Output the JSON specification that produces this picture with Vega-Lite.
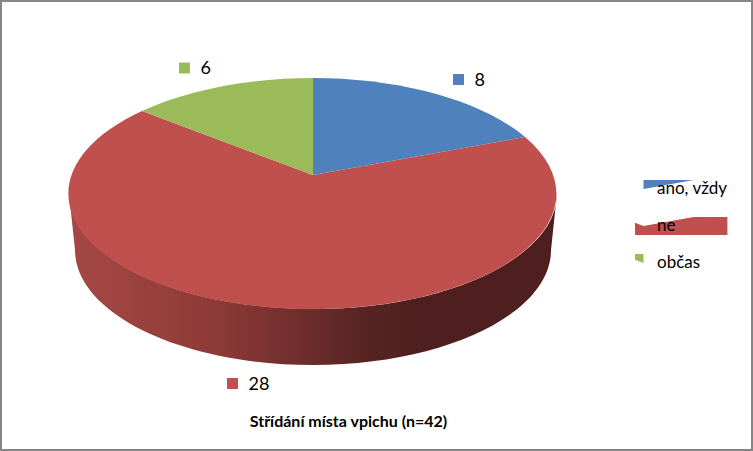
{
  "$schema": "https://vega.github.io/schema/vega-lite/v6.json",
  "width": 753,
  "height": 451,
  "padding": 0,
  "autosize": {"type": "none"},
  "background": "#ffffff",
  "config": {
    "view": {"stroke": "#868686", "strokeWidth": 4},
    "font": "Lato"
  },
  "title": {
    "text": "Střídání místa vpichu (n=42)",
    "orient": "bottom",
    "anchor": "middle",
    "dx": -28,
    "offset": -37,
    "font": "Lato",
    "fontSize": 16,
    "fontWeight": "bold",
    "color": "#000000"
  },
  "data": {
    "values": [
      {"kategorie": "ano, vždy", "n": 8},
      {"kategorie": "ne", "n": 28},
      {"kategorie": "občas", "n": 6}
    ]
  },
  "resolve": {"scale": {"x": "independent", "y": "independent"}},
  "layer": [
    {
      "transform": [{"filter": "datum.kategorie === 'ne'"}],
      "mark": {
        "type": "point",
        "filled": true,
        "opacity": 1,
        "size": 4,
        "shape": "M-244,18.5 A244,115.5 0 0 0 244,18.5 L238,75 A238,115 0 0 1 -238,75 Z",
        "fill": {
          "gradient": "linear",
          "x1": 0, "y1": 0, "x2": 1, "y2": 0,
          "stops": [
            {"offset": 0, "color": "#a64845"},
            {"offset": 0.3, "color": "#8e3a38"},
            {"offset": 0.6, "color": "#582423"},
            {"offset": 0.72, "color": "#4e1f1e"},
            {"offset": 1, "color": "#4e1f1e"}
          ]
        }
      },
      "encoding": {
        "x": {"field": "n", "type": "quantitative", "axis": null, "scale": {"domain": [6, 28], "range": [313, 313], "zero": false, "nice": false}},
        "y": {"field": "n", "type": "quantitative", "axis": null, "scale": {"domain": [6, 28], "range": [175, 175], "zero": false, "nice": false}}
      }
    },
    {
      "mark": {"type": "point", "filled": true, "opacity": 1, "size": 4},
      "encoding": {
        "x": {"field": "n", "type": "quantitative", "axis": null, "scale": {"domain": [6, 28], "range": [313, 313], "zero": false, "nice": false}},
        "y": {"field": "n", "type": "quantitative", "axis": null, "scale": {"domain": [6, 28], "range": [175, 175], "zero": false, "nice": false}},
        "shape": {
          "field": "kategorie",
          "type": "nominal",
          "legend": null,
          "scale": {
            "domain": ["ano, vždy", "ne", "občas"],
            "range": [
              "M0,0 L0,-97 A244,115.5 0 0 1 212,-38 Z",
              "M0,0 L212,-38 A244,115.5 0 1 1 -171,-64 Z",
              "M0,0 L-171,-64 A244,115.5 0 0 1 0,-97 Z"
            ]
          }
        },
        "color": {
          "field": "kategorie",
          "type": "nominal",
          "scale": {"domain": ["ano, vždy", "ne", "občas"], "range": ["#4f81bd", "#c0504d", "#9bbb59"]},
          "legend": {
            "title": null,
            "orient": "none",
            "legendX": 635,
            "legendY": 180,
            "symbolType": "square",
            "symbolSize": 121,
            "symbolOpacity": 1,
            "symbolStrokeWidth": 0,
            "labelFont": "Lato",
            "labelFontSize": 17,
            "labelColor": "#000000",
            "labelOffset": 5,
            "labelLimit": 110,
            "rowPadding": 19,
            "clipHeight": 18
          }
        }
      }
    },
    {
      "mark": {"type": "square", "filled": true, "opacity": 1, "size": 121},
      "encoding": {
        "x": {"field": "n", "type": "quantitative", "axis": null, "scale": {"domain": [6, 8, 28], "range": [184.5, 458.5, 232.5], "zero": false, "nice": false}},
        "y": {"field": "n", "type": "quantitative", "axis": null, "scale": {"domain": [6, 8, 28], "range": [68, 79.5, 383.5], "zero": false, "nice": false}},
        "color": {"field": "kategorie", "type": "nominal"}
      }
    },
    {
      "mark": {"type": "text", "align": "left", "baseline": "middle", "dx": 16, "dy": 1, "font": "Lato", "fontSize": 18, "color": "#000000"},
      "encoding": {
        "x": {"field": "n", "type": "quantitative", "axis": null, "scale": {"domain": [6, 8, 28], "range": [184.5, 458.5, 232.5], "zero": false, "nice": false}},
        "y": {"field": "n", "type": "quantitative", "axis": null, "scale": {"domain": [6, 8, 28], "range": [68, 79.5, 383.5], "zero": false, "nice": false}},
        "text": {"field": "n", "type": "quantitative"}
      }
    }
  ]
}
